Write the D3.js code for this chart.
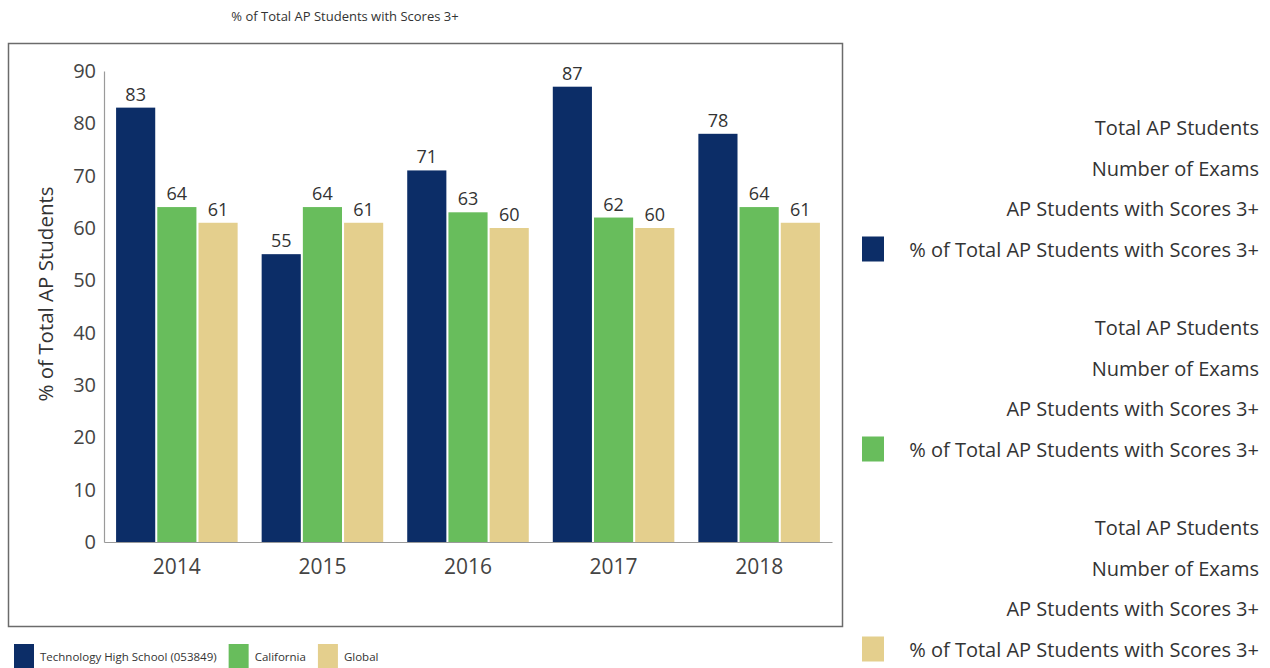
<!DOCTYPE html>
<html>
<head>
<meta charset="utf-8">
<script src="https://cdn.jsdelivr.net/npm/d3@7"></script>
<style>
  html, body { margin: 0; padding: 0; background: #fff; }
  svg { display: block; font-family: "Open Sans", "Noto Sans", sans-serif; }
</style>
</head>
<body>
<svg id="chart" width="1270" height="668"></svg>
<script>
// Chart data
const years = ["2014", "2015", "2016", "2017", "2018"];
const seriesNames = ["Technology High School (053849)", "California", "Global"];
const school = [83, 55, 71, 87, 78];
const california = [64, 64, 63, 62, 64];
const global = [61, 61, 60, 60, 61];
const yTicks = [0, 10, 20, 30, 40, 50, 60, 70, 80, 90];
const sideLegendLines = ["Total AP Students", "Number of Exams", "AP Students with Scores 3+", "% of Total AP Students with Scores 3+"];
const colors = ["#0c2d67", "#68bd5c", "#e4cf8d"];

const seriesValues = [school, california, global];

const svg = d3.select("#chart");

// Title
svg.append("text")
  .attr("x", 345).attr("y", 21)
  .attr("text-anchor", "middle")
  .attr("font-size", 13)
  .attr("fill", "#333")
  .text("% of Total AP Students with Scores 3+");

// Chart frame
svg.append("rect")
  .attr("x", 8.5).attr("y", 43.5)
  .attr("width", 834).attr("height", 583)
  .attr("fill", "none")
  .attr("stroke", "#6b6b6b")
  .attr("stroke-width", 1.5);

const plot = { left: 104, right: 832, top: 71, bottom: 542 };

const x0 = d3.scaleBand().domain(years).range([plot.left, plot.right]).paddingInner(0.165).paddingOuter(0.083);
const x1 = d3.scaleBand().domain(d3.range(seriesNames.length)).range([0, x0.bandwidth()]).paddingInner(0.05);
const y = d3.scaleLinear().domain([0, 90]).range([plot.bottom, plot.top]);

// Y axis
const yAxis = svg.append("g")
  .attr("transform", `translate(${plot.left},0)`)
  .call(d3.axisLeft(y).tickValues(yTicks).tickSize(0).tickPadding(8));
yAxis.select(".domain").attr("stroke", "#9a9a9a").attr("stroke-width", 1.2);
yAxis.selectAll("text").attr("font-size", 20).attr("fill", "#444")
  .attr("font-family", "Open Sans, Noto Sans, sans-serif");

// X axis
const xAxis = svg.append("g")
  .attr("transform", `translate(0,${plot.bottom})`)
  .call(d3.axisBottom(x0).tickSize(0).tickPadding(17));
xAxis.select(".domain").attr("stroke", "#9a9a9a").attr("stroke-width", 1.2);
xAxis.selectAll("text").attr("font-size", 21).attr("fill", "#444")
  .attr("font-family", "Open Sans, Noto Sans, sans-serif");

// Y axis title
svg.append("text")
  .attr("transform", "translate(53,294) rotate(-90)")
  .attr("text-anchor", "middle")
  .attr("font-size", 20.5)
  .attr("fill", "#333")
  .text("% of Total AP Students");

// Bars
const groups = svg.append("g").selectAll("g")
  .data(years)
  .join("g")
  .attr("transform", d => `translate(${x0(d)},0)`);

groups.selectAll("rect")
  .data((d, i) => seriesValues.map((s, k) => ({ k, v: s[i] })))
  .join("rect")
  .attr("x", d => x1(d.k))
  .attr("y", d => y(d.v))
  .attr("width", x1.bandwidth())
  .attr("height", d => y(0) - y(d.v))
  .attr("fill", d => colors[d.k]);

groups.selectAll("text.val")
  .data((d, i) => seriesValues.map((s, k) => ({ k, v: s[i] })))
  .join("text")
  .attr("class", "val")
  .attr("x", d => x1(d.k) + x1.bandwidth() / 2)
  .attr("y", d => y(d.v) - 7)
  .attr("text-anchor", "middle")
  .attr("font-size", 18)
  .attr("fill", "#333")
  .text(d => d.v);

// Bottom legend: swatch followed by its label, laid out left to right
let lx = 14;
seriesNames.forEach((name, i) => {
  svg.append("rect")
    .attr("x", lx).attr("y", 644)
    .attr("width", 20).attr("height", 24)
    .attr("fill", colors[i]);
  const t = svg.append("text")
    .attr("x", lx + 26).attr("y", 661)
    .attr("font-size", 11.5)
    .attr("fill", "#333")
    .text(name);
  lx += 26 + t.node().getComputedTextLength() + 12;
});

// Side legend
const sideTop = [135, 335, 535];
sideTop.forEach((top, i) => {
  sideLegendLines.forEach((line, j) => {
    svg.append("text")
      .attr("x", 1259).attr("y", top + j * 40.5)
      .attr("text-anchor", "end")
      .attr("font-size", 20)
      .attr("fill", "#333")
      .text(line);
  });
  svg.append("rect")
    .attr("x", 862).attr("y", top + 3 * 40.5 - 20)
    .attr("width", 22).attr("height", 25)
    .attr("fill", colors[i]);
});
</script>
</body>
</html>
